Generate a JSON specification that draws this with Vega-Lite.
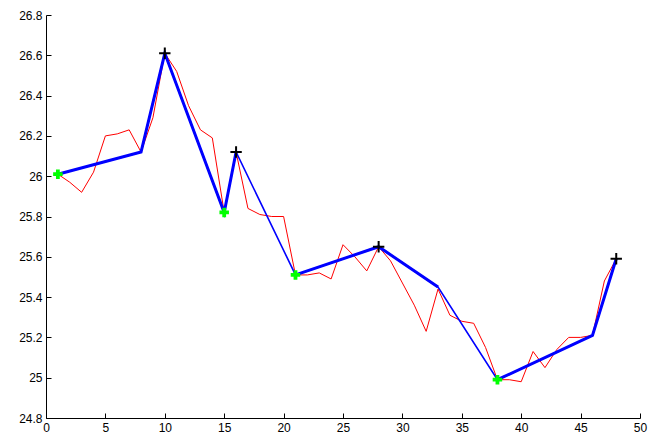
{
  "$schema": "https://vega.github.io/schema/vega-lite/v6.json",
  "width": 594,
  "height": 403,
  "autosize": {"type": "none"},
  "padding": {"left": 46, "top": 15, "right": 26, "bottom": 29},
  "background": "white",
  "config": {
    "view": {"stroke": null},
    "axis": {
      "grid": false,
      "domainColor": "black",
      "tickColor": "black",
      "tickSize": -5,
      "labelPadding": 9,
      "labelFont": "Liberation Sans",
      "labelFontSize": 12,
      "labelColor": "black",
      "title": null,
      "labelFlush": false,
      "labelOverlap": false
    }
  },
  "datasets": {
    "series": [
      {"x": 1, "y": 26.01}, {"x": 2, "y": 25.97}, {"x": 3, "y": 25.92}, {"x": 4, "y": 26.02},
      {"x": 5, "y": 26.2}, {"x": 6, "y": 26.21}, {"x": 7, "y": 26.23}, {"x": 8, "y": 26.12},
      {"x": 9, "y": 26.29}, {"x": 10, "y": 26.61}, {"x": 11, "y": 26.52}, {"x": 12, "y": 26.35},
      {"x": 13, "y": 26.23}, {"x": 14, "y": 26.19}, {"x": 15, "y": 25.82}, {"x": 16, "y": 26.12},
      {"x": 17, "y": 25.84}, {"x": 18, "y": 25.81}, {"x": 19, "y": 25.8}, {"x": 20, "y": 25.8},
      {"x": 21, "y": 25.51}, {"x": 22, "y": 25.51}, {"x": 23, "y": 25.52}, {"x": 24, "y": 25.49},
      {"x": 25, "y": 25.66}, {"x": 26, "y": 25.6}, {"x": 27, "y": 25.53}, {"x": 28, "y": 25.65},
      {"x": 29, "y": 25.58}, {"x": 30, "y": 25.47}, {"x": 31, "y": 25.36}, {"x": 32, "y": 25.23},
      {"x": 33, "y": 25.44}, {"x": 34, "y": 25.31}, {"x": 35, "y": 25.28}, {"x": 36, "y": 25.27},
      {"x": 37, "y": 25.15}, {"x": 38, "y": 24.99}, {"x": 39, "y": 24.99}, {"x": 40, "y": 24.98},
      {"x": 41, "y": 25.13}, {"x": 42, "y": 25.05}, {"x": 43, "y": 25.14}, {"x": 44, "y": 25.2},
      {"x": 45, "y": 25.2}, {"x": 46, "y": 25.21}, {"x": 47, "y": 25.48}, {"x": 48, "y": 25.59}
    ],
    "fit": [
      {"x": 1, "y": 26.01}, {"x": 8, "y": 26.12}, {"x": 10, "y": 26.61}, {"x": 15, "y": 25.82},
      {"x": 16, "y": 26.12}, {"x": 21, "y": 25.51}, {"x": 28, "y": 25.65}, {"x": 33, "y": 25.45},
      {"x": 38, "y": 24.99}, {"x": 46, "y": 25.21}, {"x": 48, "y": 25.59}
    ],
    "fitThick": [
      {"x": 1, "y": 26.01, "seg": "a"}, {"x": 8, "y": 26.12, "seg": "a"}, {"x": 10, "y": 26.61, "seg": "a"},
      {"x": 15, "y": 25.82, "seg": "a"}, {"x": 16, "y": 26.12, "seg": "a"},
      {"x": 21, "y": 25.51, "seg": "b"}, {"x": 28, "y": 25.65, "seg": "b"}, {"x": 33, "y": 25.45, "seg": "b"},
      {"x": 38, "y": 24.99, "seg": "c"}, {"x": 46, "y": 25.21, "seg": "c"}, {"x": 48, "y": 25.59, "seg": "c"}
    ],
    "peaks": [
      {"x": 10, "y": 26.61}, {"x": 16, "y": 26.12}, {"x": 28, "y": 25.65}, {"x": 48, "y": 25.59}
    ],
    "troughs": [
      {"x": 1, "y": 26.01}, {"x": 15, "y": 25.82}, {"x": 21, "y": 25.51}, {"x": 38, "y": 24.99}
    ]
  },
  "encoding": {
    "x": {
      "field": "x", "type": "quantitative",
      "scale": {"domain": [0, 50], "nice": false, "zero": false},
      "axis": {"values": [0, 5, 10, 15, 20, 25, 30, 35, 40, 45, 50]}
    },
    "y": {
      "field": "y", "type": "quantitative",
      "scale": {"domain": [24.8, 26.8], "nice": false, "zero": false},
      "axis": {"values": [24.8, 25, 25.2, 25.4, 25.6, 25.8, 26, 26.2, 26.4, 26.6, 26.8], "format": "~g"}
    }
  },
  "layer": [
    {"data": {"name": "series"}, "mark": {"type": "line", "color": "#FF0000", "strokeWidth": 1}},
    {"data": {"name": "fit"}, "mark": {"type": "line", "color": "#0000FF", "strokeWidth": 1.6}},
    {"data": {"name": "fitThick"}, "mark": {"type": "line", "color": "#0000FF", "strokeWidth": 3}, "encoding": {"detail": {"field": "seg"}}},
    {"data": {"name": "troughs"}, "mark": {"type": "point", "shape": "cross", "filled": true, "color": "#00FF00", "size": 90, "opacity": 1}},
    {"data": {"name": "peaks"}, "mark": {"type": "point", "shape": "M-1,0H1M0,-1V1", "filled": false, "color": "black", "strokeWidth": 2, "size": 130, "opacity": 1}}
  ]
}
